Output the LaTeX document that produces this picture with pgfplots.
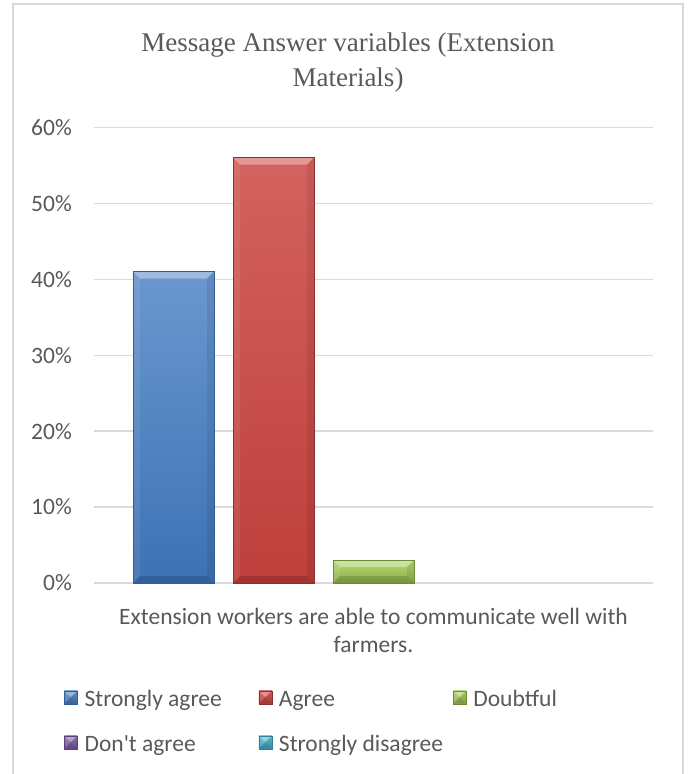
\documentclass[border=0pt]{standalone}
\usepackage{pgfplots}
\pgfplotsset{compat=1.18}
\usepackage{fontspec}
\setmainfont{Carlito}
\newfontfamily\titlefont{Liberation Serif}

\definecolor{txt}{HTML}{595959}
\definecolor{gridc}{HTML}{D9D9D9}
\definecolor{blueTop}{HTML}{6A97CF}
\definecolor{blueBot}{HTML}{3D72B4}
\definecolor{blueEdge}{HTML}{2F5E96}
\definecolor{redTop}{HTML}{D4625E}
\definecolor{redBot}{HTML}{BE3F3C}
\definecolor{redEdge}{HTML}{8E2E2C}
\definecolor{greenTop}{HTML}{B4D772}
\definecolor{greenBot}{HTML}{8DB049}
\definecolor{greenEdge}{HTML}{6B8A33}
\definecolor{purpleTop}{HTML}{9478B8}
\definecolor{purpleBot}{HTML}{6E5391}
\definecolor{purpleEdge}{HTML}{5A4278}
\definecolor{tealTop}{HTML}{63C3DC}
\definecolor{tealBot}{HTML}{3A9AB4}
\definecolor{tealEdge}{HTML}{2F7F96}

% corners of the current path picture
\newcommand\pp[1]{\pgfpointanchor{path picture bounding box}{#1}}
% one bevel face: colour, opacity, corner A, corner B, offset at B, offset at A
\newcommand\bevface[8]{%
  \begin{pgfscope}
    \pgfsetfillcolor{#1}\pgfsetfillopacity{#2}%
    \pgfpathmoveto{\pp{#3}}%
    \pgfpathlineto{\pp{#4}}%
    \pgfpathlineto{\pgfpointadd{\pp{#4}}{\pgfpoint{#5}{#6}}}%
    \pgfpathlineto{\pgfpointadd{\pp{#3}}{\pgfpoint{#7}{#8}}}%
    \pgfpathclose\pgfusepath{fill}%
  \end{pgfscope}}

% bevelled face for bars and legend boxes
\tikzset{
  bevel/.style={path picture={%
    \bevface{white}{0.35}{north west}{north east}{-#1}{-#1}{#1}{-#1}%
    \bevface{black}{0.15}{south west}{south east}{-#1}{#1}{#1}{#1}%
    \bevface{black}{0.08}{north east}{south east}{-#1}{#1}{-#1}{-#1}%
    \bevface{white}{0.08}{north west}{south west}{#1}{#1}{#1}{-#1}%
  }},
  bevel/.default=7pt
}

% legend box: edge colour, top colour, bottom colour
\pgfplotsset{
  box legend/.style n args={3}{legend image code/.code={
    \draw[draw=#1, top color=#2, bottom color=#3, bevel=6pt] (0pt,-2.5pt) rectangle (13pt,10.5pt);
    \path (20pt,0pt);
  }}
}

\newcommand\lbl{\fontsize{23.5}{28}\selectfont}

\begin{document}
\begin{tikzpicture}
\useasboundingbox (0pt,0pt) rectangle (688pt,774pt);
\draw[gridc, line width=1.3pt] (13pt,0pt) -- (13pt,770pt) -- (683pt,770pt) -- (683pt,0pt);
\node[font=\titlefont\fontsize{27}{35}\selectfont, text=txt, align=center]
  at (348pt,711.5pt) {Message Answer variables (Extension\\Materials)};
\begin{axis}[
  at={(94pt,191pt)}, anchor=south west,
  scale only axis, width=559pt, height=455.7pt,
  xmin=-0.5, xmax=0.5, ymin=0, ymax=60,
  ybar=19pt, bar width=81pt,
  xtick={0},
  xticklabels={{Extension workers are able to communicate well with\\farmers.}},
  ytick={0,10,...,60},
  yticklabels={0\%,10\%,20\%,30\%,40\%,50\%,60\%},
  /pgf/number format/assume math mode=true,
  ymajorgrids,
  major grid style={gridc, line width=1.3pt},
  axis line style={draw=none},
  tick style={draw=none},
  yticklabel style={font=\lbl, text=txt, inner sep=0pt, anchor=east, xshift=-22pt},
  xticklabel style={font=\lbl, text=txt, align=center, inner sep=0pt, anchor=north, yshift=-21pt},
  legend columns=3,
  legend cell align=left,
  legend style={draw=none, fill=none, at={(0,0)}, anchor=north west,
    xshift=-30pt, yshift=-106.5pt, inner sep=0pt, column sep=0pt, row sep=22pt,
    font=\lbl, text=txt,
    nodes={inner sep=0pt, text height=17pt, text depth=6pt}},
]
\addplot[draw=blueEdge, top color=blueTop, bottom color=blueBot, bevel,
  box legend={blueEdge}{blueTop}{blueBot}]
  coordinates {(0,41)};
\addlegendentry{\makebox[174pt][l]{Strongly agree}}
\addplot[draw=redEdge, top color=redTop, bottom color=redBot, bevel,
  box legend={redEdge}{redTop}{redBot}]
  coordinates {(0,56)};
\addlegendentry{\makebox[174pt][l]{Agree}}
\addplot[draw=greenEdge, top color=greenTop, bottom color=greenBot, bevel,
  box legend={greenEdge}{greenTop}{greenBot}]
  coordinates {(0,3)};
\addlegendentry{\makebox[174pt][l]{Doubtful}}
\addplot[draw=none, fill=none, box legend={purpleEdge}{purpleTop}{purpleBot}]
  coordinates {(0,0)};
\addlegendentry{\makebox[174pt][l]{Don\textquotesingle t agree}}
\addplot[draw=none, fill=none, box legend={tealEdge}{tealTop}{tealBot}]
  coordinates {(0,0)};
\addlegendentry{\makebox[174pt][l]{Strongly disagree}}
\end{axis}
\end{tikzpicture}
\end{document}
